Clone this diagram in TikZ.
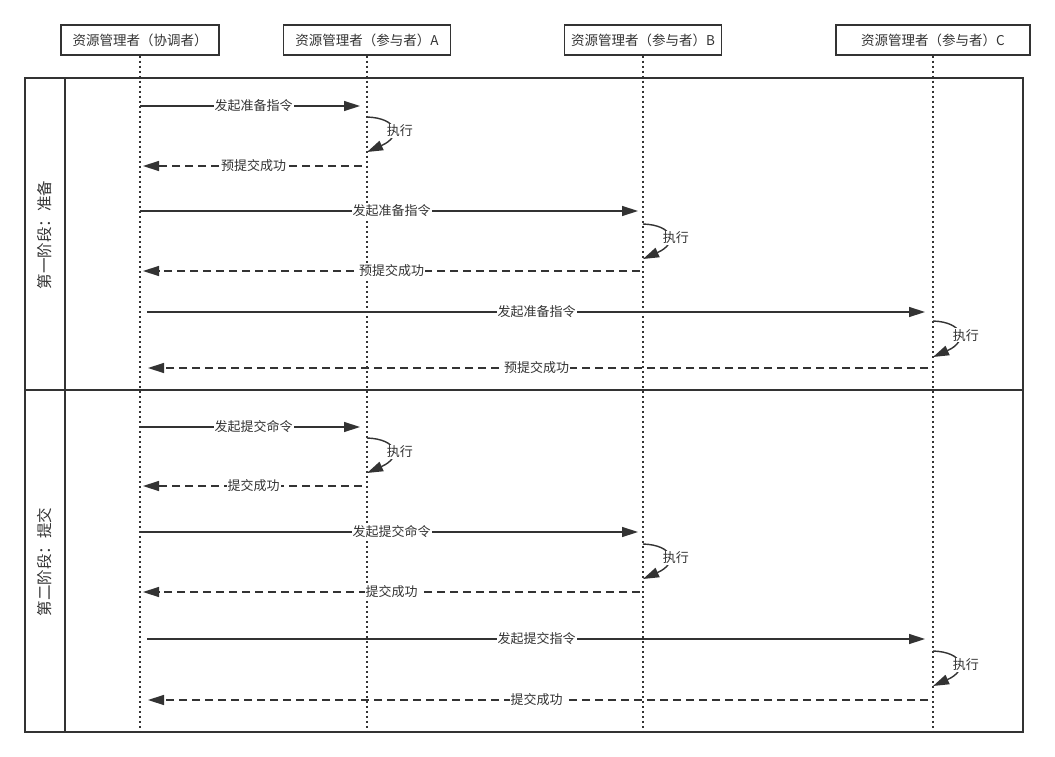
\documentclass[tikz,border=0pt]{standalone}
\usepackage{fontspec}
\newfontfamily\cjk{Noto Sans CJK SC}
\usetikzlibrary{arrows.meta}
\definecolor{ink}{HTML}{333333}

\tikzset{
  actor/.style={draw=ink, line width=1.5pt, minimum height=30pt, inner sep=0pt,
    font=\cjk\fontsize{13.5}{15}\selectfont, text=ink},
  life/.style={ink, line width=2pt, dash pattern=on 2pt off 3pt},
  frame/.style={ink, line width=1.5pt},
  call/.style={ink, line width=1.4pt, -{Triangle[length=16pt,width=10pt]}},
  back/.style={call, dash pattern=on 8pt off 5pt},
  lbl/.style={fill=white, inner sep=1pt, font=\cjk\fontsize{13}{14}\selectfont, text=ink},
  phase/.style={rotate=90, font=\cjk\fontsize{15.5}{17}\selectfont, text=ink},
  exec/.style={lbl, pos=0.5, xshift=8pt, yshift=-2pt},
}

\begin{document}
\begin{tikzpicture}[x=1pt,y=-1pt]
  \useasboundingbox (0,0) rectangle (1055,757);

  % participants
  \node[actor, minimum width=158pt] (ca) at (140,40) {资源管理者（协调者）};
  \node[actor, minimum width=167pt] (pa) at (367,40) {资源管理者（参与者）A};
  \node[actor, minimum width=157pt] (pb) at (643,40) {资源管理者（参与者）B};
  \node[actor, minimum width=194pt] (pc) at (933,40) {资源管理者（参与者）C};

  % lifelines
  \draw[life] (ca.south) -- (ca |- 0,732);
  \draw[life] (pa.south) -- (pa |- 0,732);
  \draw[life] (pb.south) -- (pb |- 0,732);
  \draw[life] (pc.south) -- (pc |- 0,732);

  % phases
  \draw[frame] (25,78) rectangle (1023,732);
  \draw[frame] (65,78) -- (65,732);
  \draw[frame] (25,390) -- (1023,390);
  \node[phase] (s1) at (45,235) {第一阶段：准备};
  \node[phase] (s2) at (45,562) {第二阶段：提交};

  % phase one
  \draw[call, shorten >=7pt] (ca |- 0,106) -- node[lbl] (m1) {发起准备指令} (pa |- 0,106);
  \draw[call] (pa |- 0,117) .. controls +(30,1) and +(36,-16) .. (pa |- 0,152)
    node[exec] (x1) {执行};
  \draw[back, shorten <=5pt, shorten >=3pt] (pa |- 0,166) -- node[lbl] (r1) {预提交成功} (ca |- 0,166);

  \draw[call, shorten >=5pt] (ca |- 0,211) -- node[lbl] (m2) {发起准备指令} (pb |- 0,211);
  \draw[call] (pb |- 0,224) .. controls +(30,1) and +(36,-16) .. (pb |- 0,259)
    node[exec] (x2) {执行};
  \draw[back, shorten <=3pt, shorten >=3pt] (pb |- 0,271) -- node[lbl] (r2) {预提交成功} (ca |- 0,271);

  \draw[call, shorten <=7pt, shorten >=8pt] (ca |- 0,312) -- node[lbl] (m3) {发起准备指令} (pc |- 0,312);
  \draw[call] (pc |- 0,321) .. controls +(30,1) and +(36,-16) .. (pc |- 0,357)
    node[exec] (x3) {执行};
  \draw[back, shorten <=5pt, shorten >=8pt] (pc |- 0,368) -- node[lbl] (r3) {预提交成功} (ca |- 0,368);

  % phase two
  \draw[call, shorten >=7pt] (ca |- 0,427) -- node[lbl] (m4) {发起提交命令} (pa |- 0,427);
  \draw[call] (pa |- 0,438) .. controls +(30,1) and +(36,-16) .. (pa |- 0,473)
    node[exec] (x4) {执行};
  \draw[back, shorten <=5pt, shorten >=3pt] (pa |- 0,486) -- node[lbl] (r4) {提交成功} (ca |- 0,486);

  \draw[call, shorten >=5pt] (ca |- 0,532) -- node[lbl] (m5) {发起提交命令} (pb |- 0,532);
  \draw[call] (pb |- 0,544) .. controls +(30,1) and +(36,-16) .. (pb |- 0,579)
    node[exec] (x5) {执行};
  \draw[back, shorten <=3pt, shorten >=3pt] (pb |- 0,592) -- node[lbl] (r5) {提交成功} (ca |- 0,592);

  \draw[call, shorten <=7pt, shorten >=8pt] (ca |- 0,639) -- node[lbl] (m6) {发起提交指令} (pc |- 0,639);
  \draw[call] (pc |- 0,651) .. controls +(30,1) and +(36,-16) .. (pc |- 0,686)
    node[exec] (x6) {执行};
  \draw[back, shorten <=5pt, shorten >=8pt] (pc |- 0,700) -- node[lbl] (r6) {提交成功} (ca |- 0,700);
\end{tikzpicture}
\end{document}
